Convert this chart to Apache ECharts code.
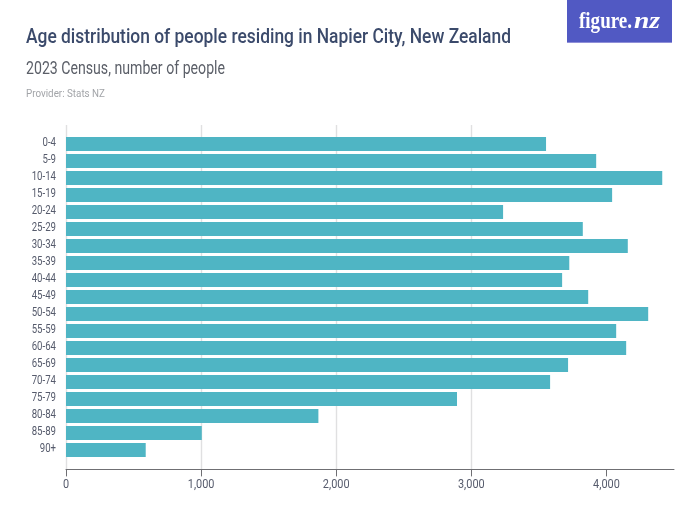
<!DOCTYPE html>
<html><head><meta charset="utf-8">
<style>html,body{margin:0;padding:0;background:#fff}#c{width:700px;height:525px}</style>
<script src="https://cdn.jsdelivr.net/npm/echarts@6/dist/echarts.min.js"></script>
</head><body><div id="c"></div>
<script>
const categories = ['0-4','5-9','10-14','15-19','20-24','25-29','30-34','35-39','40-44','45-49','50-54','55-59','60-64','65-69','70-74','75-79','80-84','85-89','90+'];
const people = [3553,3924,4413,4042,3235,3825,4158,3725,3672,3865,4309,4072,4146,3716,3583,2894,1868,1005,590];
const xTicks = [0,1000,2000,3000,4000];
const titleText = 'Age distribution of people residing in Napier City, New Zealand';
const subtitleText = '2023 Census, number of people';
const providerText = 'Provider: Stats NZ';
const logoText = ['figure.', 'nz'];
const ctx = document.createElement('canvas').getContext('2d');
function fit(text,font,w){ctx.font=font;return w/ctx.measureText(text).width;}
const fTitle='500 20px Roboto', fSub='17.5px Roboto', fProv='11px Roboto', fLogo1='bold 24px "Liberation Serif",serif', fLogo2='italic bold 24px "Liberation Serif",serif';
const ink='#565b6c';
const chart = echarts.init(document.getElementById('c'), null, {renderer:'canvas'});
chart.setOption({
  animation:false,
  backgroundColor:'#fff',
  graphic:[
    {type:'rect',shape:{x:567,y:0,width:105,height:42.5},style:{fill:'#5159c3'},z:10},
    {type:'rect',shape:{x:567,y:42,width:105,height:1},style:{fill:'#8f8fd8'},z:10},
    {type:'text',x:579,y:10,scaleX:fit(logoText[0],fLogo1,53),style:{text:logoText[0],font:fLogo1,fill:'#fff',textBaseline:'top'},z:11},
    {type:'text',x:634,y:10,scaleX:fit(logoText[1],fLogo2,26),style:{text:logoText[1],font:fLogo2,fill:'#fff',textBaseline:'top'},z:11},
    {type:'text',x:26,y:28,scaleX:fit(titleText,fTitle,485),style:{text:titleText,font:fTitle,fill:'#3b4a6b',textBaseline:'top'}},
    {type:'text',x:26,y:61,scaleX:fit(subtitleText,fSub,199),style:{text:subtitleText,font:fSub,fill:'#5b5f68',textBaseline:'top'}},
    {type:'text',x:26,y:89,scaleX:fit(providerText,fProv,79),style:{text:providerText,font:fProv,fill:'#a2a4a8',textBaseline:'top'}}
  ],
  grid:[
    {left:66,top:135.5,width:608,height:323},
    {left:66,top:125,width:608,height:344.4}
  ],
  xAxis:[
    {type:'value',gridIndex:0,min:0,max:4500,interval:1000,show:false},
    {type:'value',gridIndex:1,min:0,max:4500,interval:1000,
      axisLine:{show:true,lineStyle:{color:'#6f6f73',width:1}},
      axisTick:{show:true,length:7,customValues:xTicks,lineStyle:{color:'#6f6f73',width:1}},
      splitLine:{show:true,showMaxLine:false,lineStyle:{color:'#e0e0e1',width:1.4}},
      axisLabel:{show:true,color:ink,fontFamily:'Roboto',fontSize:13,margin:9,customValues:xTicks,
        formatter:v=>v.toLocaleString('en-US')}}
  ],
  yAxis:[
    {type:'category',gridIndex:0,inverse:true,data:categories,
      axisLine:{show:false},axisTick:{show:false},splitLine:{show:false},
      axisLabel:{color:ink,fontFamily:'Roboto',fontSize:13,margin:10,interval:0,align:'right'}},
    {type:'value',gridIndex:1,min:0,max:1,show:false}
  ],
  series:[{type:'bar',xAxisIndex:0,yAxisIndex:0,data:people,barWidth:14,
    itemStyle:{color:'#4fb5c4'},silent:true,z:5}]
});
// The reference's typeface is condensed: narrow the axis labels around their anchors.
const zr = chart.getZr();
zr.storage.traverse(el=>{
  if(el.style && typeof el.style.text==='string' && !el.isGroup && el.type!=='tspan'){
    const t=el.style.text;
    if(categories.includes(t)){el.scaleX=0.74;el.y-=1.2;el.markRedraw();}
    else if(xTicks.map(v=>v.toLocaleString('en-US')).includes(t)){el.scaleX=0.84;el.markRedraw();}
  }
});
zr.refresh();
</script></body></html>
